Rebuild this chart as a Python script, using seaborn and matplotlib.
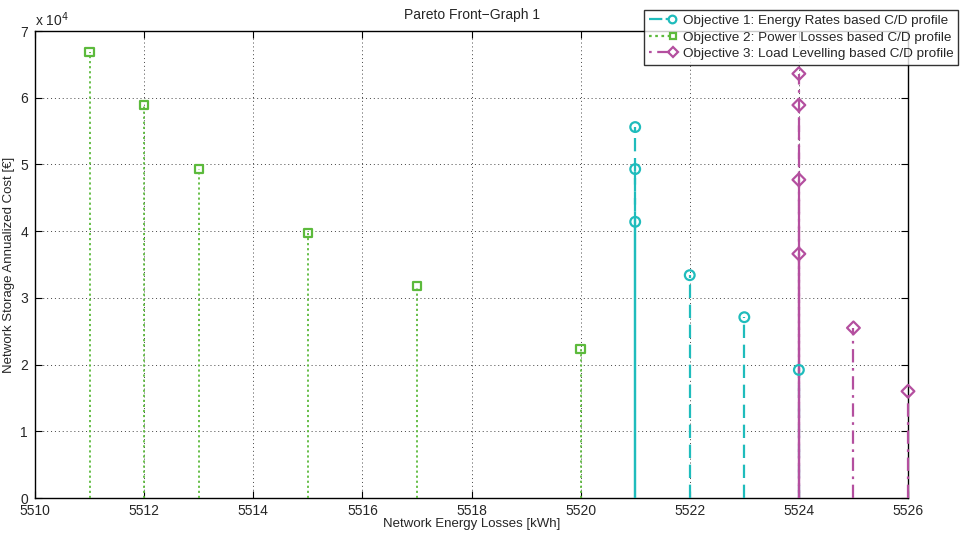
import numpy as np
import pandas as pd
import matplotlib
matplotlib.use("Agg")
import matplotlib.pyplot as plt
import seaborn as sns
from matplotlib.ticker import FuncFormatter, MultipleLocator
from matplotlib.lines import Line2D
from matplotlib.legend_handler import HandlerBase

# Data
obj1_x = [5521, 5521, 5521, 5522, 5523, 5524]
obj1_y = [55600, 49300, 41400, 33400, 27100, 19200]
obj2_x = [5511, 5512, 5513, 5515, 5517, 5520]
obj2_y = [66900, 58900, 49300, 39700, 31800, 22300]
obj3_x = [5524, 5524, 5524, 5524, 5525, 5526]
obj3_y = [63600, 58900, 47700, 36600, 25500, 16000]

labels = ["Objective 1: Energy Rates based C/D profile",
          "Objective 2: Power Losses based C/D profile",
          "Objective 3: Load Levelling based C/D profile"]
title = "Pareto Front\u2212Graph 1"
xlabel = "Network Energy Losses [kWh]"
ylabel = "Network Storage Annualized Cost [\u20ac]"

sns.set_theme(style="white")
plt.rcParams['font.family'] = ['Liberation Sans', 'DejaVu Sans']

df = pd.concat([
    pd.DataFrame({"x": obj1_x, "y": obj1_y, "obj": labels[0]}),
    pd.DataFrame({"x": obj2_x, "y": obj2_y, "obj": labels[1]}),
    pd.DataFrame({"x": obj3_x, "y": obj3_y, "obj": labels[2]}),
], ignore_index=True)

colors = {labels[0]: "#1fbcbc", labels[1]: "#5cba3c", labels[2]: "#b44f9f"}
markers = {labels[0]: "o", labels[1]: "s", labels[2]: "D"}
msizes = {labels[0]: 7, labels[1]: 6, labels[2]: 6.5}
dashes = {labels[0]: (6, 3), labels[1]: (1.2, 1.6), labels[2]: (6, 2.5, 1.2, 2.5)}
leg_dashes = {labels[0]: (6, 1.5), labels[1]: (1.2, 1.6), labels[2]: (1.2, 2.5, 6, 2.5)}


class EndMarkerHandler(HandlerBase):
    def create_artists(self, legend, orig_handle, xdescent, ydescent,
                       width, height, fontsize, trans):
        y = (height - ydescent) / 2.0
        x0 = -xdescent
        x1 = width - xdescent
        ms = orig_handle.get_markersize()
        line = Line2D([x0, x1 - ms * 0.9], [y, y], color=orig_handle.get_color(),
                      linestyle=orig_handle.get_linestyle(),
                      linewidth=orig_handle.get_linewidth())
        line.set_dashes(orig_handle._unscaled_dash_pattern[1]) if orig_handle._unscaled_dash_pattern[1] else None
        mk = Line2D([x1 - ms * 0.45], [y], linestyle="none",
                    marker=orig_handle.get_marker(), markersize=ms,
                    markerfacecolor="none",
                    markeredgecolor=orig_handle.get_markeredgecolor(),
                    markeredgewidth=orig_handle.get_markeredgewidth())
        line.set_transform(trans)
        mk.set_transform(trans)
        return [line, mk]


fig = plt.figure(figsize=(9.6, 5.33), dpi=100)
ax = fig.add_axes([35/960, 1-498/533, (908-35)/960, (498-31)/533])

ax.set_xlim(5510, 5526)
ax.set_ylim(0, 70000)
ax.xaxis.set_major_locator(MultipleLocator(2))
ax.yaxis.set_major_locator(MultipleLocator(10000))
ax.grid(True, color="#444444", linestyle=(0, (1, 3)), linewidth=0.7)
ax.set_axisbelow(True)

order = [labels[1], labels[0], labels[2]]
for lab in order:
    sub = df[df.obj == lab]
    period = sum(dashes[lab])
    for xv, grp in sub.groupby("x"):
        n = len(grp)
        for k, yv in enumerate(sorted(grp.y)):
            off = k * period / n
            ax.plot([xv, xv], [0, yv], color=colors[lab],
                    linestyle=(off, dashes[lab]),
                    linewidth=1.6 if lab != labels[1] else 1.3,
                    zorder=4, clip_on=False)
    sns.scatterplot(data=sub, x="x", y="y", ax=ax, marker=markers[lab],
                    s=msizes[lab]**2, facecolor="none", edgecolor=colors[lab],
                    linewidth=1.6, zorder=5, legend=False, clip_on=False)

handles = []
for lab in labels:
    handles.append(Line2D([0], [0], color=colors[lab], linestyle=(0, leg_dashes[lab]),
                          linewidth=1.6, marker=markers[lab], markersize=msizes[lab]-1.5,
                          markerfacecolor="none", markeredgewidth=1.6,
                          markeredgecolor=colors[lab]))

ax.set_xlabel(xlabel, fontsize=9.5, labelpad=0)
ax.set_ylabel(ylabel, fontsize=9.5, labelpad=4)
ax.set_title(title, fontsize=10, pad=9)
ax.yaxis.set_major_formatter(FuncFormatter(lambda v, p: f"{int(round(v/10000))}"))
ax.tick_params(direction="in", length=5, width=0.8, labelsize=10,
               top=True, right=True, bottom=True, left=True, color="black")
ax.tick_params(axis="x", pad=4)
ax.tick_params(axis="y", pad=5)
for s in ax.spines.values():
    s.set_color("black")
    s.set_linewidth(1.0)
    s.set_zorder(3)

ax.text(0.0, 1.005, r"x 10$^{4}$", transform=ax.transAxes, fontsize=10,
        ha="left", va="bottom")

leg = fig.legend(handles=handles, labels=labels, loc="upper right",
                 bbox_to_anchor=(958/960, 1-10/533), fontsize=9.7, frameon=True,
                 fancybox=False, edgecolor="black", handlelength=2.0,
                 handletextpad=0.5, borderpad=0.35, labelspacing=0.3,
                 borderaxespad=0, handler_map={Line2D: EndMarkerHandler()})
leg.get_frame().set_linewidth(1.0)
leg.set_zorder(10)

fig.savefig("out.png", dpi=100)
